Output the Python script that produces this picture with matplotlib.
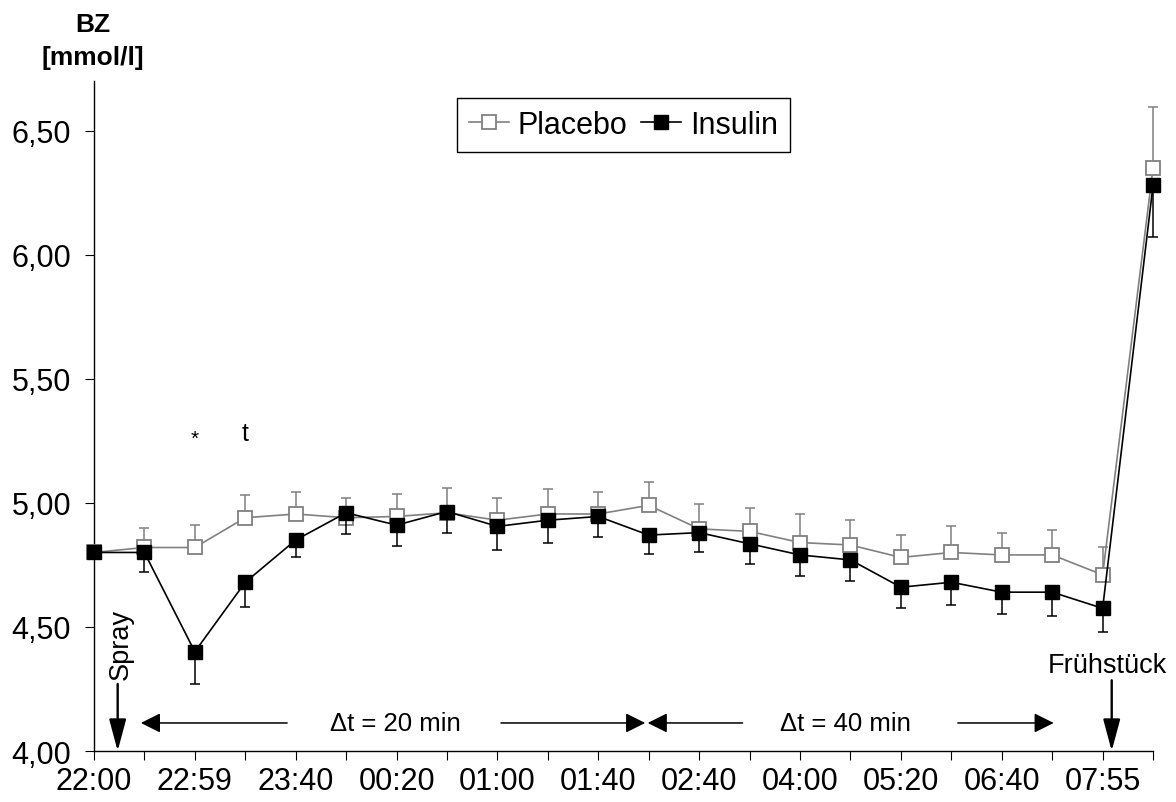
import numpy as np
import matplotlib
matplotlib.use("Agg")
import matplotlib.pyplot as plt

plt.rcParams['font.family'] = ['Liberation Sans', 'DejaVu Sans']

# ---------------------------------------------------------------------
# Daten
# ---------------------------------------------------------------------
zeit_labels = ["22:00", "", "22:59", "", "23:40", "", "00:20", "", "01:00", "",
               "01:40", "", "02:40", "", "04:00", "", "05:20", "", "06:40", "",
               "07:55", ""]

placebo = [4.80, 4.82, 4.82, 4.94, 4.955, 4.94, 4.945, 4.96, 4.93, 4.955, 4.955,
           4.99, 4.895, 4.885, 4.84, 4.83, 4.78, 4.80, 4.79, 4.79, 4.71, 6.35]
placebo_err = [0.0, 0.08, 0.09, 0.09, 0.09, 0.08, 0.09, 0.10, 0.09, 0.10, 0.09,
               0.095, 0.10, 0.095, 0.115, 0.10, 0.09, 0.105, 0.09, 0.10, 0.11, 0.245]

insulin = [4.80, 4.80, 4.40, 4.68, 4.85, 4.96, 4.91, 4.965, 4.905, 4.93, 4.945,
           4.87, 4.88, 4.835, 4.79, 4.77, 4.66, 4.68, 4.64, 4.64, 4.575, 6.28]
insulin_err = [0.0, 0.08, 0.13, 0.10, 0.07, 0.085, 0.085, 0.086, 0.095, 0.093, 0.083,
               0.076, 0.08, 0.081, 0.083, 0.083, 0.083, 0.09, 0.088, 0.097, 0.097, 0.21]

y_ticks = [4.0, 4.5, 5.0, 5.5, 6.0, 6.5]

x = np.arange(len(placebo))
null = np.zeros(len(x))

# ---------------------------------------------------------------------
# Grafik
# ---------------------------------------------------------------------
fig = plt.figure(figsize=(11.76, 8.03), dpi=100)
ax = fig.add_axes([0.0799, 0.0635, 0.9006, 0.8345])

ax.errorbar(x, placebo, yerr=[null, placebo_err], fmt='none', ecolor='#808080',
            elinewidth=1.1, capsize=3.6, capthick=1.1, zorder=2, clip_on=False)
ax.plot(x, placebo, color='#808080', lw=1.2, marker='s', markersize=10,
        markerfacecolor='white', markeredgecolor='#808080', markeredgewidth=1.3,
        label='Placebo', zorder=3, clip_on=False)
ax.errorbar(x, insulin, yerr=[insulin_err, null], fmt='none', ecolor='black',
            elinewidth=1.1, capsize=3.6, capthick=1.1, zorder=4, clip_on=False)
ax.plot(x, insulin, color='black', lw=1.2, marker='s', markersize=10.5,
        markerfacecolor='black', markeredgecolor='black',
        label='Insulin', zorder=5, clip_on=False)

ax.set_xlim(0, 21)
ax.set_ylim(4.0, 6.7)
ax.set_xticks(x)
ax.set_xticklabels(zeit_labels)
ax.set_yticks(y_ticks)
ax.set_yticklabels([f"{v:.2f}".replace('.', ',') for v in y_ticks])
ax.tick_params(axis='both', labelsize=22, length=6.5, width=0.8, direction='out')
ax.tick_params(axis='x', pad=4)
ax.tick_params(axis='y', pad=10)

for s in ['top', 'right']:
    ax.spines[s].set_visible(False)
for s in ['left', 'bottom']:
    ax.spines[s].set_linewidth(1.0)

leg = ax.legend(loc='upper center', bbox_to_anchor=(0.5, 0.975), ncol=2, fontsize=22,
                frameon=True, fancybox=False, framealpha=1, edgecolor='black',
                handlelength=1.3, handletextpad=0.3, columnspacing=0.45,
                borderpad=0.4, borderaxespad=0)
leg.get_frame().set_linewidth(1.0)

# Achsenbeschriftung
fig.text(93 / 1176, 1 - 25 / 803, "BZ", ha='center', va='center',
         fontsize=19, fontweight='bold')
fig.text(93 / 1176, 1 - 58 / 803, "[mmol/l]", ha='center', va='center',
         fontsize=19, fontweight='bold')

# Signifikanz
ax.text(2, 5.26, "*", ha='center', va='center', fontsize=15)
ax.text(3, 5.28, "t", ha='center', va='center', fontsize=18)

# Spray / Frühstück
ax.annotate("", xy=(0.47, 4.0), xytext=(0.47, 4.27),
            arrowprops=dict(arrowstyle='-|>,head_length=0.97,head_width=0.26',
                            mutation_scale=20, lw=1.7, color='black',
                            shrinkA=0, shrinkB=0))
ax.text(0.53, 4.29, "Spray", rotation=90, ha='center', va='bottom', fontsize=19.5)
ax.annotate("", xy=(20.18, 4.0), xytext=(20.18, 4.285),
            arrowprops=dict(arrowstyle='-|>,head_length=0.97,head_width=0.26',
                            mutation_scale=20, lw=1.7, color='black',
                            shrinkA=0, shrinkB=0))
ax.text(20.1, 4.345, "Frühstück", ha='center', va='center', fontsize=19.5)

# Zeitintervalle
pfeil = dict(arrowstyle='-|>,head_length=0.6,head_width=0.3', mutation_scale=20,
             lw=1.1, color='black', shrinkA=0, shrinkB=0)
y_pf = 4.113
ax.annotate("", xy=(0.93, y_pf), xytext=(3.83, y_pf), arrowprops=pfeil)
ax.annotate("", xy=(10.93, y_pf), xytext=(8.07, y_pf), arrowprops=pfeil)
ax.annotate("", xy=(10.98, y_pf), xytext=(12.86, y_pf), arrowprops=pfeil)
ax.annotate("", xy=(19.03, y_pf), xytext=(17.13, y_pf), arrowprops=pfeil)
ax.text(5.97, y_pf, "Δt = 20 min", ha='center', va='center', fontsize=18.5)
ax.text(14.9, y_pf, "Δt = 40 min", ha='center', va='center', fontsize=18.5)

fig.savefig("out.png", dpi=100)
